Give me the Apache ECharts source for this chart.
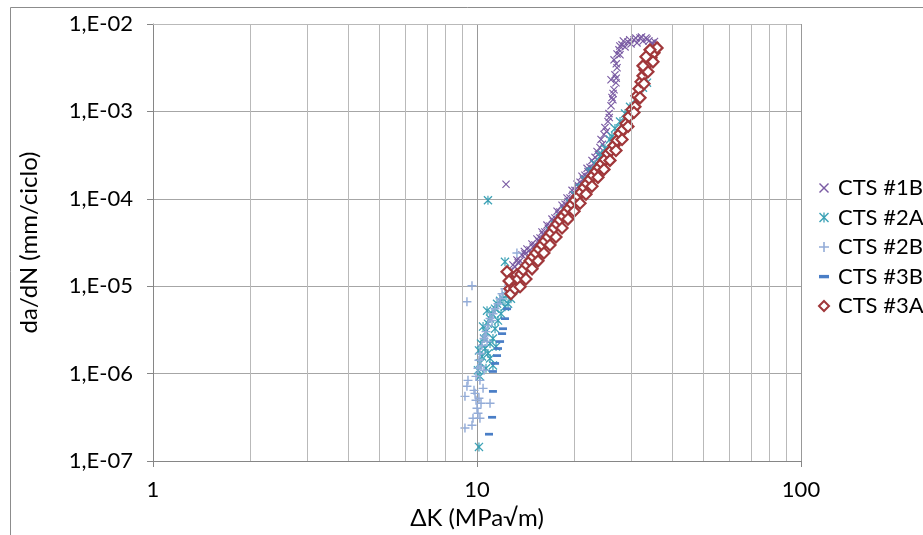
<!DOCTYPE html>
<html>
<head>
<meta charset="utf-8">
<script src="https://cdn.jsdelivr.net/npm/echarts@6/dist/echarts.min.js"></script>
<style>html,body{margin:0;padding:0;background:#fff;}#c{width:923px;height:535px;}</style>
</head>
<body>
<div id="c"></div>
<script>
// ---- data: [ΔK (MPa√m), da/dN (mm/ciclo)] ----
const xTicks = [1, 10, 100];
const yTicks = [1e-7, 1e-6, 1e-5, 1e-4, 1e-3, 1e-2];
const seriesNames = ['CTS #1B', 'CTS #2A', 'CTS #2B', 'CTS #3B', 'CTS #3A'];
const xTitle = 'ΔK (MPa√m)';
const yTitle = 'da/dN (mm/ciclo)';

const cts1B = [
  [12.64,1.50e-5],[12.91,1.75e-5],[13.1,1.66e-5],[13.28,2.0e-5],[13.58,1.95e-5],[13.77,2.28e-5],[14.06,2.34e-5],[14.26,2.67e-5],
  [14.58,2.60e-5],[14.78,3.04e-5],[15.1,2.96e-5],[15.31,3.47e-5],[15.65,3.56e-5],[15.87,4.17e-5],[16.2,4.17e-5],[16.44,5.0e-5],
  [16.8,4.87e-5],[17.04,5.86e-5],[17.4,6.02e-5],[17.66,7.22e-5],[18.03,7.04e-5],[18.3,8.45e-5],[18.7,8.67e-5],[18.96,1.02e-4],
  [19.37,1.02e-4],[19.65,1.25e-4],[20.06,1.25e-4],[20.35,1.47e-4],[20.8,1.55e-4],[21.09,1.81e-4],[21.54,1.86e-4],[21.86,2.23e-4],
  [22.33,2.29e-4],[22.64,2.75e-4],[23.14,2.98e-4],[23.47,3.48e-4],[23.96,3.87e-4],[24.14,4.78e-4],[24.66,5.45e-4],[24.83,6.53e-4],
  [25.37,7.66e-4],[25.55,9.44e-4],[25.92,1.16e-3],[26.1,1.44e-3],[26.48,1.77e-3],[26.85,2.13e-3],[26.66,2.62e-3],[27.05,3.16e-3],
  [26.48,3.89e-3],[27.05,4.55e-3],[27.43,5.06e-3],[28.03,5.77e-3],[28.64,5.47e-3],[29.24,6.24e-3],[29.88,5.92e-3],[30.51,6.58e-3],
  [31.18,6.08e-3],[31.85,6.93e-3],[32.53,6.40e-3],[33.23,6.93e-3],[33.94,6.40e-3],[34.67,6.08e-3],[35.44,5.62e-3],[27.63,4.44e-3],
  [25.92,2.30e-3],[26.27,1.36e-3],[12.29,1.47e-4],
  [13.4,1.85e-5],[14.0,2.5e-5],[14.9,2.8e-5],[15.5,3.3e-5],[16.0,3.9e-5],[16.6,4.6e-5],[17.2,5.5e-5],[17.9,6.6e-5],[18.5,7.8e-5],
  [19.1,9.3e-5],[19.8,1.12e-4],[20.5,1.38e-4],[21.3,1.68e-4],[22.0,2.05e-4],[22.9,2.55e-4],[23.7,3.2e-4],[24.4,4.2e-4],[25.1,5.9e-4],
  [25.6,8.5e-4],[26.3,1.6e-3],[26.9,2.4e-3],[26.9,3.5e-3],[27.6,5.6e-3],[28.3,6.4e-3],[29.6,6.6e-3],[30.9,6.9e-3],[32.2,7.1e-3],
  [33.5,6.7e-3],[34.9,5.9e-3],[35.3,6.3e-3]
];

const cts2A = [
  [10.07,1.09e-6],[10.21,1.31e-6],[10.36,1.57e-6],[10.14,1.84e-6],[10.29,2.21e-6],[10.51,2.52e-6],[10.66,3.02e-6],[10.44,3.45e-6],
  [10.81,3.73e-6],[10.97,4.26e-6],[11.13,4.85e-6],[10.74,5.25e-6],[11.37,5.53e-6],[11.53,6.30e-6],[11.78,6.81e-6],[12.03,7.18e-6],
  [12.29,7.78e-6],[10.21,9.3e-7],[10.59,1.94e-6],[10.97,2.21e-6],[11.2,2.52e-6],[11.37,3.27e-6],[11.61,4.04e-6],[11.86,4.85e-6],
  [12.2,5.82e-6],[12.47,6.30e-6],[12.73,7.18e-6],[11.2,1.24e-6],[10.97,1.49e-6],[10.66,1.15e-6],[10.81,1.70e-6],[11.45,2.04e-6],
  [13.1,9.34e-6],[13.58,1.15e-5],[14.06,1.38e-5],[14.58,1.75e-5],[15.1,2.05e-5],[15.65,2.54e-5],[16.2,3.04e-5],[16.8,4.28e-5],
  [17.4,5.0e-5],[18.03,6.02e-5],[18.7,7.22e-5],[19.37,8.90e-5],[20.06,1.10e-4],[20.8,1.32e-4],[21.54,1.63e-4],[22.33,2.01e-4],
  [23.14,2.48e-4],[23.96,3.05e-4],[24.83,3.77e-4],[25.73,4.78e-4],[26.66,6.37e-4],[27.63,7.66e-4],[28.64,9.44e-4],[29.67,1.13e-3],
  [30.73,1.36e-3],[31.85,1.59e-3],[32.53,1.87e-3],[33.47,2.13e-3],
  [14.78,1.95e-5],[15.87,2.67e-5],[17.04,3.85e-5],[18.3,5.86e-5],[19.65,8.45e-5],[21.09,1.35e-4],[22.64,2.06e-4],[24.3,3.22e-4],
  [26.1,5.17e-4],
  [10.81,9.63e-5],[12.2,1.90e-5],[10.14,1.45e-7]
];

const cts2B = [
  [13.28,2.40e-5],[9.65,1.01e-5],[9.31,6.64e-6],[12.2,9.34e-6],[11.95,8.19e-6],[11.78,7.18e-6],[11.61,6.30e-6],[11.37,5.53e-6],
  [11.2,4.85e-6],[10.97,4.26e-6],[10.81,3.54e-6],[10.66,3.02e-6],[10.51,2.52e-6],[10.36,2.10e-6],[10.21,1.70e-6],[10.14,1.42e-6],
  [10.29,1.21e-6],[10.51,1.09e-6],[10.07,1.15e-6],[9.93,9.3e-7],[10.21,8.37e-7],[9.38,8.37e-7],[9.31,7.15e-7],[9.18,5.49e-7],
  [9.86,5.94e-7],[10.44,6.78e-7],[10.97,4.58e-7],[10.0,4.02e-7],[10.07,3.52e-7],[9.72,3.09e-7],[9.65,2.57e-7],[9.18,2.38e-7],
  [10.14,5.22e-7],[10.29,4.58e-7],[9.93,4.95e-7],[9.79,6.43e-7],[10.21,3.09e-7],[10.59,2.70e-6],[11.13,4.04e-6],[10.74,2.33e-6]
];

const cts3B = [
  [12.38,5.53e-6],[12.2,4.26e-6],[12.03,3.27e-6],[11.95,2.87e-6],[11.78,2.33e-6],[11.61,1.94e-6],[11.53,1.61e-6],[11.37,1.31e-6],
  [11.2,1.06e-6],[11.2,6.27e-7],[11.13,3.17e-7],[10.89,2.03e-7]
];

const cts3A = [
  [12.38,1.46e-5],[12.64,9.34e-6],[12.82,1.06e-5],[13.0,1.18e-5],[12.56,1.15e-5],[12.73,8.19e-6],[13.1,9.34e-6],[13.28,1.35e-5],
  [13.39,1.21e-5],[13.68,1.38e-5],[13.88,1.54e-5],[14.26,1.75e-5],[14.58,1.95e-5],[14.9,2.17e-5],[15.2,2.40e-5],[15.54,2.67e-5],
  [15.87,2.96e-5],[16.2,3.29e-5],[16.56,3.66e-5],[16.92,4.06e-5],[17.29,4.63e-5],[17.66,5.14e-5],[18.03,5.71e-5],[18.42,6.34e-5],
  [18.83,7.04e-5],[19.23,7.81e-5],[19.65,8.67e-5],[20.06,9.63e-5],[20.5,1.07e-4],[20.95,1.19e-4],[21.4,1.35e-4],[21.86,1.50e-4],
  [22.33,1.67e-4],[22.81,1.85e-4],[23.3,2.06e-4],[23.79,2.29e-4],[24.3,2.54e-4],[24.83,2.82e-4],[25.37,3.30e-4],[25.92,3.57e-4],
  [26.48,4.08e-4],[27.05,4.66e-4],[27.63,5.59e-4],[28.23,6.21e-4],[28.84,7.26e-4],[29.46,8.74e-4],[30.1,1.05e-3],[30.73,1.13e-3],
  [31.18,1.51e-3],[31.62,1.82e-3],[32.08,2.18e-3],[32.53,2.55e-3],[33.0,2.99e-3],[33.7,3.50e-3],[34.44,4.10e-3],[35.19,4.68e-3],
  [35.95,5.33e-3],
  [13.58,9.84e-6],[14.16,1.21e-5],[14.79,1.58e-5],[15.43,1.95e-5],[16.09,2.40e-5],[16.8,2.96e-5],[17.53,3.66e-5],[18.3,4.63e-5],
  [19.09,5.86e-5],[19.94,7.22e-5],[20.8,8.90e-5],[21.7,1.13e-4],[22.64,1.39e-4],[23.63,1.76e-4],[24.66,2.17e-4],[25.73,2.75e-4],
  [26.85,3.57e-4],[28.03,4.78e-4],[29.24,6.72e-4],[30.51,9.70e-4],[31.85,1.43e-3],[32.77,2.07e-3],[33.7,2.84e-3],[34.93,3.69e-3],
  [34.19,5.06e-3],[33.23,4.21e-3],[32.53,3.32e-3]
];

// ---- minor grid positions (from major tick list) ----
const minorX = [];
for (let i = 0; i < xTicks.length - 1; i++) for (let k = 2; k <= 9; k++) minorX.push(+(xTicks[i] * k).toPrecision(3));
const minorY = [];
for (let i = 0; i < yTicks.length - 1; i++) for (let k = 2; k <= 9; k++) minorY.push(+(yTicks[i] * k).toPrecision(3));

const FONT = 'Lato';
const X_PATH = 'path://M1,0L5,4L9,0L10,1L6,5L10,9L9,10L5,6L1,10L0,9L4,5L0,1Z';
const STAR_PATH = 'path://M1,0L5,4L9,0L10,1L6,5L10,9L9,10L5,6L1,10L0,9L4,5L0,1Z M4.35,0L5.65,0L5.65,10L4.35,10Z';
const PLUS_PATH = 'path://M4.2,0H5.8V4.2H10V5.8H5.8V10H4.2V5.8H0V4.2H4.2Z';
const DASH_PATH = 'path://M0,0M0,3.4H10V6.8H0Z M10,10';

const chart = echarts.init(document.getElementById('c'), null, {renderer: 'canvas'});
const axisGray = '#868686';
chart.setOption({
  animation: false,
  backgroundColor: '#ffffff',
  textStyle: {fontFamily: FONT},
  graphic: [{type: 'rect', shape: {x: 10.5, y: 7.5, width: 2000, height: 2000}, style: {fill: 'none', stroke: '#8c8c8c', lineWidth: 1}, z: -10}],
  grid: {left: 153, right: 122, top: 24, bottom: 72},
  xAxis: {
    type: 'log', logBase: 10, min: 1, max: 100,
    name: xTitle, nameLocation: 'middle', nameGap: 45,
    nameTextStyle: {fontSize: 24, color: '#000', fontFamily: FONT},
    axisLine: {show: true, lineStyle: {color: axisGray, width: 1}},
    axisTick: {show: true, inside: false, length: 6, lineStyle: {color: axisGray}},
    axisLabel: {fontSize: 22, color: '#000', margin: 18, fontFamily: FONT,
      formatter: v => String(Math.round(v))},
    splitLine: {show: true, lineStyle: {color: '#999999', width: 1}},
    minorTick: {show: false}, minorSplitLine: {show: false}
  },
  yAxis: {
    type: 'log', logBase: 10, min: 1e-7, max: 1e-2,
    name: yTitle, nameLocation: 'middle', nameGap: 112, nameRotate: 90,
    nameTextStyle: {fontSize: 24, color: '#000', fontFamily: FONT},
    axisLine: {show: true, lineStyle: {color: axisGray, width: 1}},
    axisTick: {show: true, inside: false, length: 6, lineStyle: {color: axisGray}},
    axisLabel: {fontSize: 22, color: '#000', margin: 20, fontFamily: FONT,
      formatter: v => '1,E-' + String(Math.round(-Math.log10(v))).padStart(2, '0')},
    splitLine: {show: true, lineStyle: {color: '#a6a6a6', width: 1}}
  },
  legend: {
    orient: 'vertical', left: 813, top: 171, itemWidth: 10, itemHeight: 10, itemGap: 5.5,
    textStyle: {fontSize: 22, color: '#000', fontFamily: FONT, lineHeight: 24, padding: [0, 0, 0, 4]},
    data: seriesNames
  },
  series: [
    {
      type: 'scatter', name: '_grid', data: [], z: 1, silent: true,
      markLine: {
        silent: true, symbol: 'none', animation: false,
        label: {show: false},
        lineStyle: {color: '#b9b9b9', width: 1, type: 'solid'},
        emphasis: {disabled: true},
        data: minorX.map(x => ({xAxis: x})).concat(minorY.map(y => ({yAxis: y})))
      }
    },
    {type: 'scatter', name: seriesNames[0], data: cts1B, z: 3, symbol: X_PATH, symbolSize: 8,
      itemStyle: {color: '#7a5ba3', opacity: 1}},
    {type: 'scatter', name: seriesNames[1], data: cts2A, z: 3, symbol: STAR_PATH, symbolSize: 9,
      itemStyle: {color: '#3ca2b6', opacity: 1}},
    {type: 'scatter', name: seriesNames[2], data: cts2B, z: 3, symbol: PLUS_PATH, symbolSize: 9,
      itemStyle: {color: '#93acd8', opacity: 1}},
    {type: 'scatter', name: seriesNames[3], data: cts3B, z: 3, symbol: DASH_PATH, symbolSize: 8,
      itemStyle: {color: '#4a7ec6', opacity: 1}},
    {type: 'scatter', name: seriesNames[4], data: cts3A, z: 3, symbol: 'diamond', symbolSize: 11,
      itemStyle: {color: '#ffffff', borderColor: '#a0373a', borderWidth: 2.2, opacity: 1}}
  ]
});
</script>
</body>
</html>
